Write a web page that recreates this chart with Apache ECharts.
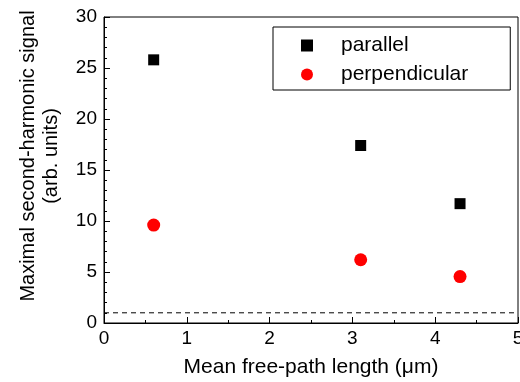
<!DOCTYPE html>
<html>
<head>
<meta charset="utf-8">
<script src="https://cdn.jsdelivr.net/npm/echarts@6/dist/echarts.min.js"></script>
<style>html,body{margin:0;padding:0;background:#fff;}#c{width:520px;height:382px;}</style>
</head>
<body>
<div id="c"></div>
<script>
const pathLength = [0.6, 3.1, 4.3];
const parallelSignal = [25.8, 17.4, 11.7];
const perpendicularSignal = [9.6, 6.2, 4.55];
const baselineX = [0, 5];
const baselineY = [1, 1];
const xTicks = [0, 1, 2, 3, 4, 5];
const yTicks = [0, 5, 10, 15, 20, 25, 30];

const FONT = "'Liberation Sans', Arial, Helvetica, sans-serif";
const chart = echarts.init(document.getElementById('c'));
chart.setOption({
  animation: false,
  backgroundColor: '#fff',
  textStyle: { fontFamily: FONT, color: '#000' },
  grid: { left: 104, right: 2, top: 17, bottom: 59, containLabel: false, outerBoundsMode: 'none', show: true, borderColor: '#000', borderWidth: 1, backgroundColor: 'transparent' },
  xAxis: {
    type: 'value', min: xTicks[0], max: xTicks[xTicks.length - 1], interval: 1,
    name: 'Mean free-path length (\u03bcm)', nameLocation: 'middle', nameGap: 34,
    nameTextStyle: { fontSize: 21, fontFamily: FONT, color: '#000' },
    axisLine: { lineStyle: { color: '#000', width: 1 } },
    axisTick: { inside: true, length: 6, lineStyle: { color: '#000' } },
    minorTick: { show: true, splitNumber: 2, length: 3, lineStyle: { color: '#000' } },
    axisLabel: { fontSize: 19, fontFamily: FONT, color: '#000', margin: 6, showMaxLabel: true },
    splitLine: { show: false }
  },
  yAxis: {
    type: 'value', min: yTicks[0], max: yTicks[yTicks.length - 1], interval: 5,
    axisLine: { show: true, lineStyle: { color: '#000', width: 1 } },
    axisTick: { show: true, inside: true, length: 6, lineStyle: { color: '#000' } },
    minorTick: { show: true, splitNumber: 5, length: 3, lineStyle: { color: '#000' } },
    axisLabel: { fontSize: 19, fontFamily: FONT, color: '#000', margin: 7 },
    splitLine: { show: false }
  },
  graphic: [{
    type: 'text', x: 40, y: 156, rotation: Math.PI / 2,
    style: { text: 'Maximal second-harmonic signal\n(arb. units)', fontSize: 20, fontFamily: FONT, fill: '#000', align: 'center', verticalAlign: 'middle', lineHeight: 23 }
  }],
  legend: {
    orient: 'vertical', left: 273, top: 27,
    padding: [8, 42, 5, 28], itemGap: 8, itemWidth: 12, itemHeight: 12,
    borderColor: '#000', borderWidth: 1, borderRadius: 0,
    textStyle: { fontSize: 21, fontFamily: FONT, color: '#000', padding: [0, 0, 0, 23] },
    data: [{ name: 'parallel', icon: 'rect' }, { name: 'perpendicular', icon: 'circle' }]
  },
  series: [
    {
      name: 'baseline', type: 'line', data: baselineX.map((x, i) => [x, baselineY[i]]),
      symbol: 'none', lineStyle: { color: '#000', width: 1, type: [5, 4] }, silent: true
    },
    {
      name: 'parallel', type: 'scatter', symbol: 'rect', symbolSize: 11,
      itemStyle: { color: '#000', opacity: 1 },
      data: pathLength.map((x, i) => [x, parallelSignal[i]])
    },
    {
      name: 'perpendicular', type: 'scatter', symbol: 'circle', symbolSize: 13,
      itemStyle: { color: '#ff0000', opacity: 1 },
      data: pathLength.map((x, i) => [x, perpendicularSignal[i]])
    }
  ]
});
</script>
</body>
</html>
